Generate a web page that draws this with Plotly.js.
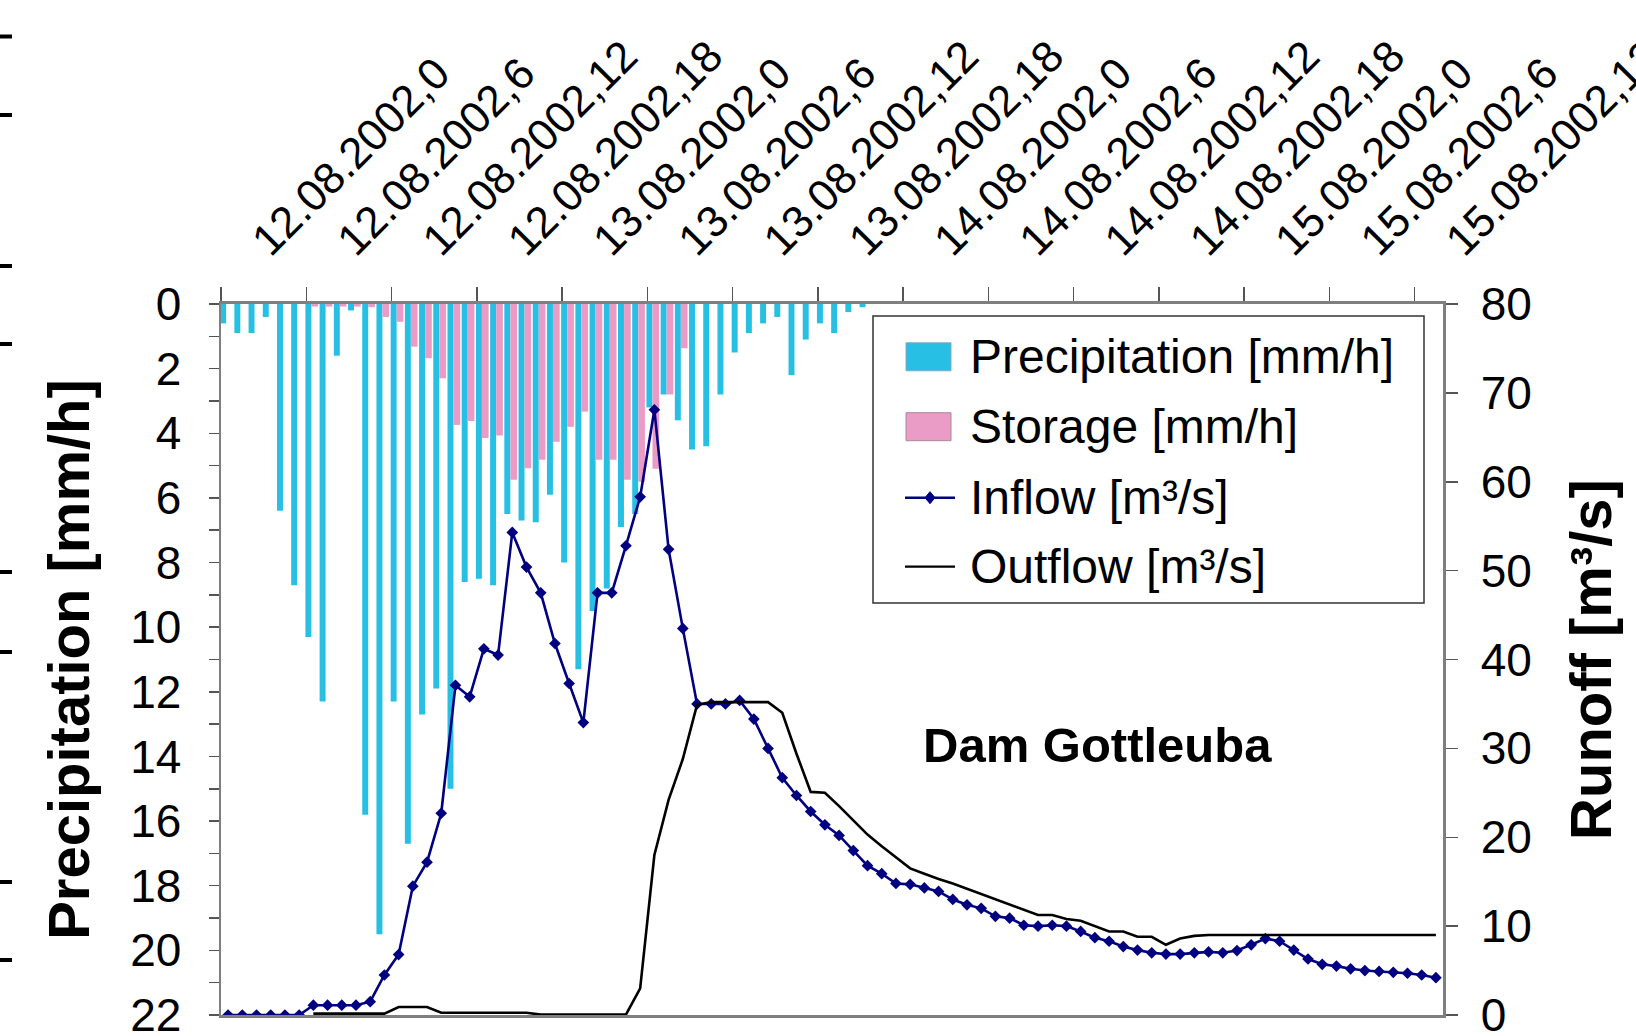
<!DOCTYPE html>
<html><head><meta charset="utf-8">
<script src="https://cdn.plot.ly/plotly-3.0.1.min.js"></script>
<style>html,body{margin:0;padding:0;background:#fff;} #chart{width:1636px;height:1036px;}</style>
</head><body><div id="chart"></div>
<script>
// ---- data ----
const barHours = [0,1,2,3,4,5,6,7,8,9,10,11,12,13,14,15,16,17,18,19,20,21,22,23,24,25,26,27,28,29,30,31,32,33,34,35,36,37,38,39,40,41,42,43,44,45];
const precipitation = [0.6,0.9,0.9,0.4,6.4,8.7,10.3,12.3,1.6,0.2,15.8,19.5,12.3,16.7,12.7,11.9,15.0,8.6,8.5,8.7,6.5,6.7,6.75,5.9,8.0,11.3,9.5,8.8,6.9,6.5,3.2,2.8,3.6,4.5,4.4,2.8,1.5,0.9,0.6,0.4,2.2,1.1,0.6,0.9,0.25,0.1];
const storage = [0,0,0,0,0,0,0.08,0.08,0.08,0.08,0.1,0.4,0.55,1.32,1.68,2.3,3.74,3.62,4.15,4.07,5.44,5.08,4.82,4.26,3.8,3.33,4.82,4.82,5.44,5.5,5.1,2.8,1.37,0,0,0,0,0,0,0,0,0,0,0,0,0];
const flowHours = [0,1,2,3,4,5,6,7,8,9,10,11,12,13,14,15,16,17,18,19,20,21,22,23,24,25,26,27,28,29,30,31,32,33,34,35,36,37,38,39,40,41,42,43,44,45,46,47,48,49,50,51,52,53,54,55,56,57,58,59,60,61,62,63,64,65,66,67,68,69,70,71,72,73,74,75,76,77,78,79,80,81,82,83,84,85];
const inflow = [0,0,0,0,0,0,1.1,1.1,1.1,1.1,1.5,4.5,6.8,14.5,17.2,22.7,37.1,35.8,41.2,40.5,54.3,50.4,47.5,41.8,37.3,32.9,47.5,47.5,52.8,58.3,68.1,52.4,43.5,35.0,35.0,35.0,35.4,33.3,30.0,26.7,24.7,22.9,21.4,20.2,18.5,16.8,15.9,14.8,14.7,14.3,13.9,13.0,12.4,12.0,11.1,10.9,10.1,10.0,10.1,10.0,9.4,8.7,8.3,7.7,7.3,7.0,6.85,6.85,7.0,7.1,7.0,7.25,7.9,8.6,8.3,7.3,6.3,5.7,5.5,5.2,5.0,4.9,4.8,4.7,4.5,4.2];
const outflow = [null,null,null,null,null,null,0.15,0.15,0.15,0.15,0.15,0.15,0.9,0.9,0.9,0.25,0.25,0.25,0.25,0.25,0.25,0.25,0.05,0.05,0.05,0.05,0.05,0.05,0.05,3.0,18.0,24.2,28.8,34.9,35.2,35.2,35.2,35.2,35.2,34.0,29.4,25.1,25.0,23.5,21.9,20.3,19.0,17.7,16.5,15.9,15.3,14.8,14.2,13.6,13.0,12.4,11.8,11.25,11.25,10.8,10.6,10.0,9.4,9.4,8.8,8.8,7.9,8.6,8.9,9.0,9.0,9.0,9.0,9.0,9.0,9.0,9.0,9.0,9.0,9.0,9.0,9.0,9.0,9.0,9.0,9.0];
const tickHours = [0,6,12,18,24,30,36,42,48,54,60,66,72,78,84];
const tickLabels = ['12.08.2002,0','12.08.2002,6','12.08.2002,12','12.08.2002,18','13.08.2002,0','13.08.2002,6','13.08.2002,12','13.08.2002,18','14.08.2002,0','14.08.2002,6','14.08.2002,12','14.08.2002,18','15.08.2002,0','15.08.2002,6','15.08.2002,12'];
const precipTicks = [0,2,4,6,8,10,12,14,16,18,20,22];
const seriesNames = ['Precipitation [mm/h]','Storage [mm/h]','Inflow [m³/s]','Outflow [m³/s]'];

// ---- style ----
const FONT = 'Liberation Sans, Arial, sans-serif';
const CYAN = '#27bfe4', PINK = '#eb9cc6', NAVY = '#000080';
const W = 1636, H = 1036, ML = 221, MR = 193, MT = 304, MB = 21;
const px = x => (x - ML) / (W - ML - MR);
const py = y => (H - MB - y) / (H - MT - MB);

const traces = [
  {type:'bar', x:barHours, y:precipitation, name:seriesNames[0], marker:{color:CYAN, line:{width:0}}, width:0.42, offset:-0.06, xaxis:'x', yaxis:'y'},
  {type:'bar', x:barHours, y:storage, name:seriesNames[1], marker:{color:PINK, line:{width:0}}, width:0.47, offset:0.365, xaxis:'x', yaxis:'y'},
  {type:'scatter', mode:'lines+markers', x:flowHours, y:inflow, name:seriesNames[2], line:{color:NAVY, width:2.6}, marker:{symbol:'diamond', size:9, color:NAVY}, xaxis:'x2', yaxis:'y2'},
  {type:'scatter', mode:'lines', x:flowHours, y:outflow, name:seriesNames[3], line:{color:'#000', width:2.6}, connectgaps:false, xaxis:'x2', yaxis:'y2'}
];

// custom legend (large swatches like the original)
const rows = [356.8, 426.7, 497.7, 566.6];
const shapes = [
  {type:'rect', xref:'paper', yref:'paper', x0:px(873), x1:px(1424), y0:py(316), y1:py(603), line:{color:'#333', width:1.5}, fillcolor:'#fff', layer:'above'},
  {type:'rect', xref:'paper', yref:'paper', x0:px(906), x1:px(951), y0:py(rows[0]-14), y1:py(rows[0]+14), line:{color:'#8ab', width:1}, fillcolor:CYAN, layer:'above'},
  {type:'rect', xref:'paper', yref:'paper', x0:px(906), x1:px(951), y0:py(rows[1]-14), y1:py(rows[1]+14), line:{color:'#a89', width:1}, fillcolor:PINK, layer:'above'},
  {type:'line', xref:'paper', yref:'paper', x0:px(905), x1:px(955), y0:py(rows[2]), y1:py(rows[2]), line:{color:NAVY, width:2.6}, layer:'above'},
  {type:'path', xref:'paper', yref:'paper', path:`M${px(930)},${py(rows[2]-6)} L${px(935)},${py(rows[2])} L${px(930)},${py(rows[2]+6)} L${px(925)},${py(rows[2])} Z`, fillcolor:NAVY, line:{color:NAVY, width:1}, layer:'above'},
  {type:'line', xref:'paper', yref:'paper', x0:px(905), x1:px(955), y0:py(rows[3]), y1:py(rows[3]), line:{color:'#000', width:2.4}, layer:'above'}
];
// stray marks on the left border of the original image
[36.5,115,266,344,572,652,882,960].forEach(y => shapes.push({type:'rect', xref:'paper', yref:'paper', x0:px(0), x1:px(12), y0:py(y-2), y1:py(y+2), fillcolor:'#000', line:{width:0}}));

const annotations = seriesNames.map((n,i) => ({xref:'paper', yref:'paper', x:px(968), y:py(rows[i]), xanchor:'left', yanchor:'middle', text:n, showarrow:false, font:{family:FONT, size:48, color:'#000'}}));
annotations.push({xref:'paper', yref:'paper', x:px(1097), y:py(745), xanchor:'center', yanchor:'middle', text:'Dam Gottleuba', showarrow:false, font:{family:FONT, size:49, color:'#000', weight:'bold'}});

const axisLine = '#7f7f7f';
const layout = {
  width:W, height:H, margin:{l:ML, r:MR, t:MT, b:MB, pad:0},
  paper_bgcolor:'#fff', plot_bgcolor:'#fff', showlegend:false, barmode:'overlay',
  font:{family:FONT, size:46, color:'#000'},
  xaxis:{side:'top', range:[0,86], tickmode:'array', tickvals:tickHours, ticktext:tickLabels, tickangle:-45,
         ticks:'outside', ticklen:14, tickcolor:'#555', tickwidth:1.5, showline:true, linecolor:axisLine, linewidth:3, mirror:true,
         showgrid:false, zeroline:false, tickfont:{size:44}, ticklabelshift:34, ticklabelstandoff:5, ticklabeloverflow:'allow'},
  xaxis2:{overlaying:'x', range:[-0.5,85.5], visible:false, showgrid:false, zeroline:false},
  yaxis:{range:[22,0], tickmode:'array', tickvals:precipTicks, ticks:'outside', ticklen:10, tickcolor:'#555', tickwidth:1.5,
         minor:{dtick:1, ticks:'outside', ticklen:10, tickcolor:'#555', tickwidth:1.5, showgrid:false},
         showline:true, linecolor:axisLine, linewidth:2.5, showgrid:false, zeroline:false, ticklabelstandoff:18, ticklabeloverflow:'allow',
         title:{text:'Precipitation [mm/h]', font:{size:58, weight:'bold'}, standoff:22}},
  yaxis2:{overlaying:'y', side:'right', range:[0,80], dtick:10, ticks:'outside', ticklen:12, tickcolor:'#555', tickwidth:1.5,
          showline:true, linecolor:axisLine, linewidth:2.5, showgrid:false, zeroline:false, ticklabelstandoff:14, ticklabeloverflow:'allow',
          title:{text:'Runoff [m³/s]', font:{size:58, weight:'bold'}, standoff:40}},
  shapes:shapes, annotations:annotations
};
Plotly.newPlot('chart', traces, layout, {staticPlot:true, displayModeBar:false});
</script></body></html>
